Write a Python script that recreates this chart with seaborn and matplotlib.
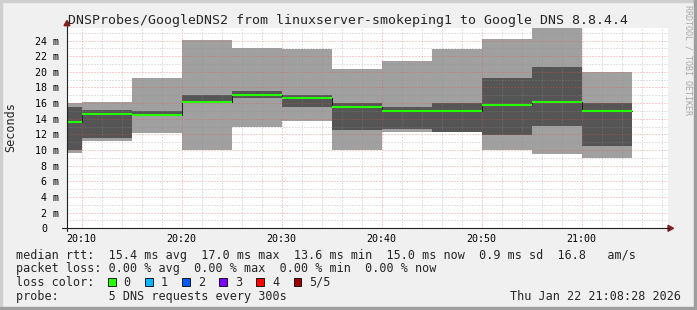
import matplotlib
matplotlib.use("Agg")
import matplotlib.pyplot as plt
import seaborn as sns
import pandas as pd
from matplotlib.patches import Rectangle, Polygon
from matplotlib.lines import Line2D
from matplotlib.ticker import MultipleLocator, FixedLocator
from matplotlib.transforms import ScaledTranslation

# ---------------- data (minutes after 20:00, 5-minute steps) ----------------
step_start = [5, 10, 15, 20, 25, 30, 35, 40, 45, 50, 55, 60]
step_len = 5
ping_max = [16.0, 16.1, 19.2, 24.1, 23.0, 22.9, 20.4, 21.4, 22.9, 24.2, 25.6, 20.0]
ping_hi  = [15.5, 15.1, 15.0, 17.0, 17.5, 17.0, 16.0, 15.5, 16.0, 19.2, 20.6, 16.0]
median   = [13.6, 14.6, 14.5, 16.1, 17.0, 16.6, 15.5, 15.0, 15.0, 15.8, 16.1, 15.0]
ping_lo  = [10.0, 11.6, 14.3, 16.0, 16.6, 15.5, 12.5, 12.7, 12.3, 11.9, 13.1, 10.5]
ping_min = [9.6, 11.2, 12.2, 10.0, 13.0, 13.7, 10.0, 12.3, 12.3, 10.0, 9.5, 9.0]

xtick_pos = [10, 20, 30, 40, 50, 60]
xtick_lab = ["20:10", "20:20", "20:30", "20:40", "20:50", "21:00"]
ytick_pos = [0, 2, 4, 6, 8, 10, 12, 14, 16, 18, 20, 22, 24]

title = "DNSProbes/GoogleDNS2 from linuxserver-smokeping1 to Google DNS 8.8.4.4"
rtt_avg, rtt_max, rtt_min, rtt_now, rtt_sd, rtt_ams = 15.4, 17.0, 13.6, 15.0, 0.9, 16.8
loss_avg, loss_max, loss_min, loss_now = 0.0, 0.0, 0.0, 0.0
loss_labels = ["0", "1", "2", "3", "4", "5/5"]
loss_colors = ["#26ff00", "#00b8ff", "#0059ff", "#7e00ff", "#ff0000", "#a00000"]
probe_text = "5 DNS requests every 300s"
stamp = "Thu Jan 22 21:08:28 2026"

# ---------------- style ----------------
sns.set_style("white")
plt.rcParams["font.family"] = ["DejaVu Sans Mono"]
BACK = "#f0f0f0"
LIGHT = "#a0a0a0"
DARK = "#555555"
GREEN = loss_colors[0]
AXISC = "#1f1f1f"
ARROW = "#7f1f1f"

W, H = 697, 310
fig = plt.figure(figsize=(W / 100, H / 100), dpi=100, facecolor=BACK)


def fx(p):
    return p / W


def fy(p):
    return 1 - p / H


ax = fig.add_axes([fx(67), fy(228.3), (668 - 67) / W, (228.3 - 28) / H])
ax.set_facecolor("white")

df = pd.DataFrame({"start": step_start, "pmax": ping_max, "phi": ping_hi,
                   "med": median, "plo": ping_lo, "pmin": ping_min})

ax.bar(df["start"], df["pmax"] - df["pmin"], bottom=df["pmin"], width=step_len,
       align="edge", color=LIGHT, linewidth=0, zorder=1)
ax.bar(df["start"], df["phi"] - df["plo"], bottom=df["plo"], width=step_len,
       align="edge", color=DARK, linewidth=0, zorder=1.1)

sx = step_start + [step_start[-1] + step_len]
sy = median + [median[-1]]
sns.lineplot(x=sx, y=sy, drawstyle="steps-post", color="#202020",
             linewidth=0.72, ax=ax, zorder=3)
ax.hlines(df["med"], df["start"], df["start"] + step_len, colors=GREEN,
          linewidth=1.5, zorder=4, capstyle="butt")

ax.set_xlim(8.53, 68.63)
ax.set_ylim(0, 25.6)
ax.xaxis.set_major_locator(FixedLocator(xtick_pos))
ax.set_xticklabels(xtick_lab)
ax.xaxis.set_minor_locator(MultipleLocator(2))
ax.yaxis.set_major_locator(FixedLocator(ytick_pos))
ax.set_yticklabels([f"{v} m" if v else "0" for v in ytick_pos])
ax.yaxis.set_minor_locator(MultipleLocator(1))
ax.set_xlabel("")
ax.set_ylabel("")

ax.set_axisbelow(False)
ax.grid(which="major", color="#de5050", alpha=0.55, linestyle=(0, (1, 2)), linewidth=0.72)
ax.grid(which="minor", color="#8f8f8f", alpha=0.5, linestyle=(0, (1, 2)), linewidth=0.72)
for s in ax.spines.values():
    s.set_visible(False)

ax.tick_params(axis="both", which="both", colors=AXISC, width=0.72, direction="out",
               labelsize=7.2, labelcolor="black")
ax.tick_params(axis="y", which="major", length=3.0, pad=2.6)
ax.tick_params(axis="y", which="minor", length=1.5)
ax.tick_params(axis="x", which="major", length=2.2, pad=1.6)
ax.tick_params(axis="x", which="minor", length=1.5)

for t in ax.get_yticklabels():
    if t.get_text() == "0":
        t.set_transform(t.get_transform() + ScaledTranslation(-11.9 / 100, 0, fig.dpi_scale_trans))

# axis lines with arrows
fig.add_artist(Line2D([fx(62), fx(668.5)], [fy(228.3)] * 2, color=AXISC, lw=0.8,
                      transform=fig.transFigure))
fig.add_artist(Polygon([(fx(668), fy(225.3)), (fx(673.5), fy(228.3)), (fx(668), fy(231.3))],
                       closed=True, color=ARROW, transform=fig.transFigure))
fig.add_artist(Line2D([fx(67)] * 2, [fy(231), fy(25.5)], color=AXISC, lw=0.8,
                      transform=fig.transFigure))
fig.add_artist(Polygon([(fx(64), fy(25.7)), (fx(67), fy(20.5)), (fx(70), fy(25.7))],
                       closed=True, color=ARROW, transform=fig.transFigure))

# texts
fig.text(0.5, fy(24), title, ha="center", va="baseline", fontsize=9.5)
fig.text(fx(10.5), fy(127.5), "Seconds", rotation=90, ha="center", va="center", fontsize=8.5)
fig.text(fx(688), fy(60), "RRDTOOL / TOBI OETIKER", rotation=270, ha="center", va="center",
         fontsize=6, color="#a8a8a8")

LEG = 8.5
line1 = (f"median rtt:  {rtt_avg:.1f} ms avg  {rtt_max:.1f} ms max  {rtt_min:.1f} ms min  "
         f"{rtt_now:.1f} ms now  {rtt_sd:.1f} ms sd  {rtt_ams:.1f}   am/s")
line2 = (f"packet loss: {loss_avg:.2f} % avg  {loss_max:.2f} % max  {loss_min:.2f} % min  "
         f"{loss_now:.2f} % now")
fig.text(fx(16), fy(258.5), line1, ha="left", va="baseline", fontsize=LEG)
fig.text(fx(16), fy(272.2), line2, ha="left", va="baseline", fontsize=LEG)
fig.text(fx(16), fy(285.9), "loss color:", ha="left", va="baseline", fontsize=LEG)
for i, (lab, col) in enumerate(zip(loss_labels, loss_colors)):
    bx = 108 + i * 37.1
    fig.add_artist(Rectangle((fx(bx), fy(286)), 7.5 / W, 8 / H, facecolor=col,
                             edgecolor="black", linewidth=0.6, transform=fig.transFigure))
    fig.text(fx(bx + 15.5), fy(285.9), lab, ha="left", va="baseline", fontsize=LEG)
fig.text(fx(16), fy(299.6), "probe:       " + probe_text, ha="left", va="baseline", fontsize=LEG)
fig.text(fx(680.5), fy(299.6), stamp, ha="right", va="baseline", fontsize=LEG)

# frame shading
fig.add_artist(Rectangle((0, fy(2)), 1, 2 / H, color="#cfcfcf", transform=fig.transFigure))
fig.add_artist(Rectangle((0, 0), 2 / W, 1, color="#cfcfcf", transform=fig.transFigure))
fig.add_artist(Rectangle((0, 0), 1, 3 / H, color="#9e9e9e", transform=fig.transFigure))
fig.add_artist(Rectangle((fx(694), 0), 3 / W, 1, color="#9e9e9e", transform=fig.transFigure))

fig.savefig("out.png", dpi=100, facecolor=BACK)
